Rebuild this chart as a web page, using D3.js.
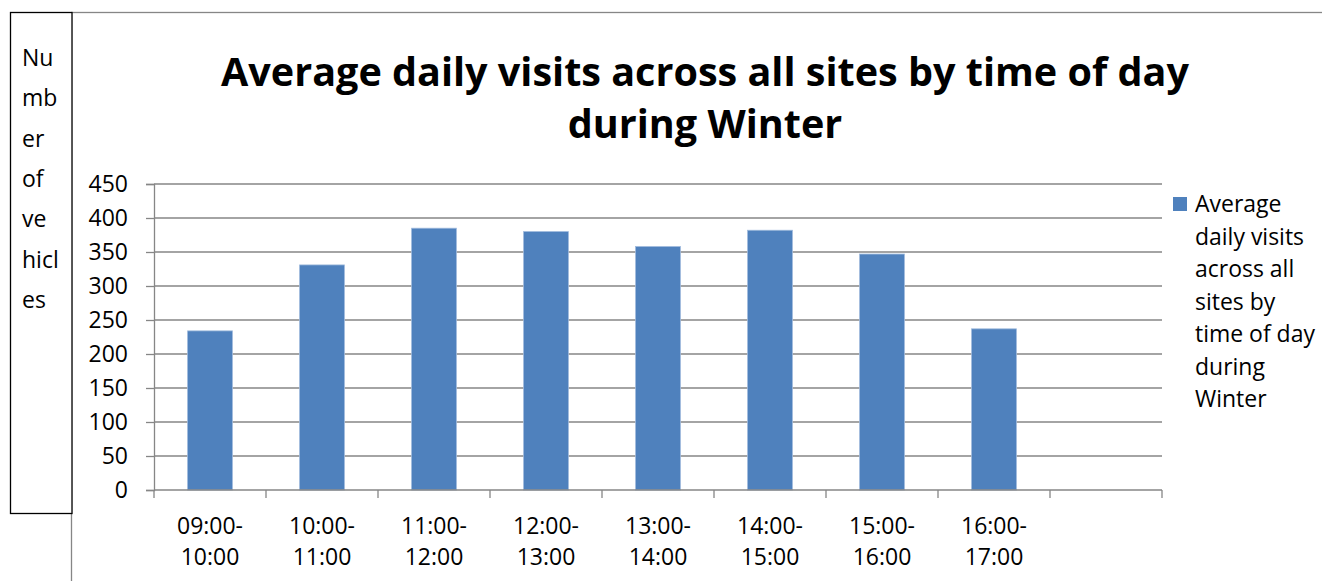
<!DOCTYPE html>
<html>
<head>
<meta charset="utf-8">
<script src="https://cdn.jsdelivr.net/npm/d3@7"></script>
<style>
  body { margin: 0; background: #fff; }
  svg { display: block; }
  text { font-family: "Open Sans", sans-serif; fill: #000; }
</style>
</head>
<body>
<svg id="chart"></svg>
<script>
// data
const timeSlots = ["09:00-10:00", "10:00-11:00", "11:00-12:00", "12:00-13:00",
                   "13:00-14:00", "14:00-15:00", "15:00-16:00", "16:00-17:00", ""];
const visits = [234, 331, 385, 380, 358, 382, 347, 237, null];
const yTicks = [0, 50, 100, 150, 200, 250, 300, 350, 400, 450];
const titleLines = ["Average daily visits across all sites by time of day", "during Winter"];
const legendLines = ["Average", "daily visits", "across all", "sites by", "time of day", "during", "Winter"];
const yTitleLines = ["Nu", "mb", "er", "of", "ve", "hicl", "es"];

const W = 1322, H = 581;
const barColor = "#4f81bd", gridColor = "#868686";

const svg = d3.select("#chart").attr("width", W).attr("height", H);

// plot area
const plot = {left: 154, right: 1162, top: 184, bottom: 490};

const x = d3.scaleBand()
    .domain(d3.range(timeSlots.length))
    .range([plot.left, plot.right])
    .paddingInner(0.6)
    .paddingOuter(0.3);

const y = d3.scaleLinear()
    .domain([0, 450])
    .range([plot.bottom, plot.top]);

// fit a font size so a sample string gets a given width
function fitSize(sample, target, weight) {
  const t = svg.append("text").style("font-size", "100px").style("font-weight", weight || 400).text(sample);
  const w = t.node().getComputedTextLength();
  t.remove();
  return 100 * target / w;
}
const bodySize = fitSize("time of day", 120);
const titleSize = fitSize(titleLines[0], 968, 700);

// chart area border (top + left edges show)
svg.append("rect")
    .attr("x", 71.5).attr("y", 12.5)
    .attr("width", 1400).attr("height", 700)
    .attr("fill", "none")
    .attr("stroke", gridColor)
    .attr("stroke-width", 1.3);

// gridlines
svg.append("g")
  .selectAll("line")
  .data(yTicks.filter(d => d > 0))
  .join("line")
    .attr("x1", plot.left).attr("x2", plot.right)
    .attr("y1", d => y(d)).attr("y2", d => y(d))
    .attr("stroke", gridColor)
    .attr("stroke-width", 1.3);

// bars
svg.append("g")
  .selectAll("rect")
  .data(visits.map((v, i) => ({i: i, v: v})).filter(d => d.v != null))
  .join("rect")
    .attr("x", d => x(d.i))
    .attr("y", d => y(d.v))
    .attr("width", x.bandwidth())
    .attr("height", d => y(0) - y(d.v))
    .attr("fill", barColor)
    .attr("stroke", "#9fbadc")
    .attr("stroke-width", 0.8);

// y axis
const yAxis = svg.append("g")
    .attr("transform", "translate(" + plot.left + ",0)")
    .call(d3.axisLeft(y).tickValues(yTicks).tickSize(8).tickPadding(18));
yAxis.select(".domain").attr("stroke", gridColor).attr("stroke-width", 1.3);
yAxis.selectAll(".tick line").attr("stroke", gridColor).attr("stroke-width", 1.3);
yAxis.selectAll(".tick text")
    .style("font-size", bodySize + "px")
    .style("font-family", "'Open Sans', sans-serif")
    .attr("fill", "#000");

// x axis with ticks between categories
const step = x.step();
const bounds = d3.range(timeSlots.length + 1).map(i => plot.left + i * step);
const xAxis = svg.append("g");
xAxis.append("line")
    .attr("x1", plot.left).attr("x2", plot.right)
    .attr("y1", plot.bottom).attr("y2", plot.bottom)
    .attr("stroke", gridColor).attr("stroke-width", 1.3);
xAxis.selectAll(".xt")
  .data(bounds)
  .join("line")
    .attr("class", "xt")
    .attr("x1", d => d).attr("x2", d => d)
    .attr("y1", plot.bottom).attr("y2", plot.bottom + 8)
    .attr("stroke", gridColor).attr("stroke-width", 1.3);

const xLabels = xAxis.selectAll(".xl")
  .data(timeSlots.map((s, i) => ({i: i, s: s})).filter(d => d.s))
  .join("text")
    .attr("class", "xl")
    .attr("text-anchor", "middle")
    .style("font-size", bodySize + "px");
xLabels.append("tspan")
    .attr("x", d => x(d.i) + x.bandwidth() / 2)
    .attr("y", 534)
    .text(d => d.s.split("-")[0] + "-");
xLabels.append("tspan")
    .attr("x", d => x(d.i) + x.bandwidth() / 2)
    .attr("y", 565)
    .text(d => d.s.split("-")[1]);

// title
svg.append("text")
    .attr("text-anchor", "middle")
    .style("font-size", titleSize + "px")
    .style("font-weight", 700)
  .selectAll("tspan")
  .data(titleLines)
  .join("tspan")
    .attr("x", 705)
    .attr("y", (d, i) => 86 + i * 52)
    .text(d => d);

// legend
svg.append("rect")
    .attr("x", 1173).attr("y", 197)
    .attr("width", 14).attr("height", 14)
    .attr("fill", barColor);
svg.append("text")
    .style("font-size", bodySize + "px")
  .selectAll("tspan")
  .data(legendLines)
  .join("tspan")
    .attr("x", 1195)
    .attr("y", (d, i) => 212 + i * 32.5)
    .text(d => d);

// y axis title box
svg.append("rect")
    .attr("x", 10.5).attr("y", 12.5)
    .attr("width", 61.5).attr("height", 501)
    .attr("fill", "#fff")
    .attr("stroke", "#000")
    .attr("stroke-width", 1.3);
svg.append("text")
    .style("font-size", bodySize + "px")
  .selectAll("tspan")
  .data(yTitleLines)
  .join("tspan")
    .attr("x", 22)
    .attr("y", (d, i) => 66 + i * 40.3)
    .text(d => d);
</script>
</body>
</html>
